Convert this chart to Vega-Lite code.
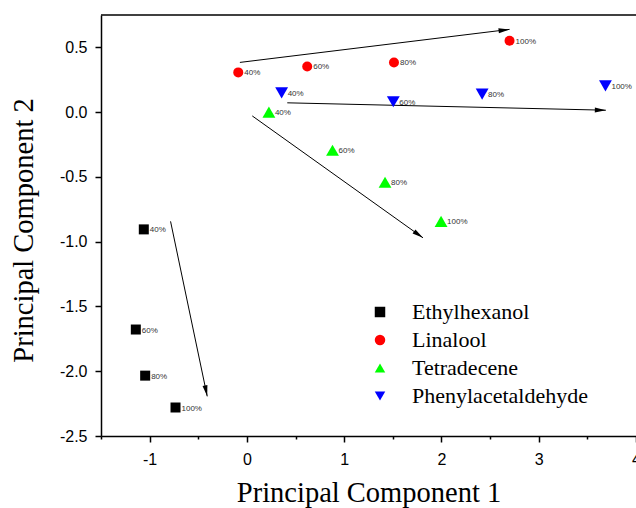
{
  "$schema": "https://vega.github.io/schema/vega-lite/v6.json",
  "width": 535,
  "height": 421,
  "autosize": {"type": "none"},
  "padding": {"left": 101, "top": 15, "right": 0, "bottom": 72},
  "background": "white",
  "datasets": {
    "pts": [
      {"series": "Ethylhexanol", "x": -1.06, "y": -0.905, "label": "40%"},
      {"series": "Ethylhexanol", "x": -1.142, "y": -1.678, "label": "60%"},
      {"series": "Ethylhexanol", "x": -1.046, "y": -2.034, "label": "80%"},
      {"series": "Ethylhexanol", "x": -0.734, "y": -2.28, "label": "100%"},
      {"series": "Linalool", "x": -0.089, "y": 0.307, "label": "40%"},
      {"series": "Linalool", "x": 0.62, "y": 0.353, "label": "60%"},
      {"series": "Linalool", "x": 1.512, "y": 0.384, "label": "80%"},
      {"series": "Linalool", "x": 2.7, "y": 0.551, "label": "100%"},
      {"series": "Tetradecene", "x": 0.226, "y": 0.0, "label": "40%"},
      {"series": "Tetradecene", "x": 0.88, "y": -0.294, "label": "60%"},
      {"series": "Tetradecene", "x": 1.42, "y": -0.541, "label": "80%"},
      {"series": "Tetradecene", "x": 1.996, "y": -0.843, "label": "100%"},
      {"series": "Phenylacetaldehyde", "x": 0.357, "y": 0.149, "label": "40%"},
      {"series": "Phenylacetaldehyde", "x": 1.505, "y": 0.08, "label": "60%"},
      {"series": "Phenylacetaldehyde", "x": 2.418, "y": 0.139, "label": "80%"},
      {"series": "Phenylacetaldehyde", "x": 3.686, "y": 0.203, "label": "100%"}
    ],
    "arrows": [
      {"x": -0.072, "y": 0.384, "xe": 2.7, "ye": 0.639},
      {"x": 0.415, "y": 0.072, "xe": 3.69, "ye": 0.015},
      {"x": 0.055, "y": -0.029, "xe": 1.81, "ye": -0.97},
      {"x": -0.785, "y": -0.843, "xe": -0.408, "ye": -2.194}
    ]
  },
  "layer": [
    {
      "data": {"values": [{"a": -1.5, "b": 4.0, "t": 0.75}]},
      "mark": {"type": "rule", "color": "black", "strokeWidth": 1.5},
      "encoding": {
        "x": {"field": "a", "type": "quantitative"},
        "x2": {"field": "b"},
        "y": {"field": "t", "type": "quantitative"}
      }
    },
    {
      "data": {"name": "arrows"},
      "mark": {"type": "rule", "color": "black", "strokeWidth": 1},
      "encoding": {
        "x": {"field": "x", "type": "quantitative"},
        "y": {"field": "y", "type": "quantitative"},
        "x2": {"field": "xe"},
        "y2": {"field": "ye"}
      }
    },
    {
      "data": {"name": "arrows"},
      "transform": [
        {"calculate": "atan2((datum.xe - datum.x) * 97.27, (datum.ye - datum.y) * 129.5) * 180 / PI", "as": "ang"}
      ],
      "mark": {"type": "point", "filled": true, "color": "black", "opacity": 1, "shape": "M0,0 L-0.45,2 L0.45,2 Z", "size": 121},
      "encoding": {
        "x": {"field": "xe", "type": "quantitative"},
        "y": {"field": "ye", "type": "quantitative"},
        "angle": {"field": "ang", "type": "quantitative", "scale": null}
      }
    },
    {
      "data": {"name": "pts"},
      "transform": [{"filter": "datum.series === 'Ethylhexanol' || datum.series === 'Linalool'"}],
      "mark": {"type": "point", "filled": true, "opacity": 1, "strokeWidth": 0, "size": 100},
      "encoding": {
        "x": {
          "field": "x", "type": "quantitative",
          "scale": {"domain": [-1.5, 4.0], "nice": false, "zero": false},
          "axis": {
            "title": "Principal Component 1",
            "values": [-1.5, -1, -0.5, 0, 0.5, 1, 1.5, 2, 2.5, 3, 3.5, 4],
            "format": ".0f",
            "labelExpr": "datum.value % 1 === 0 ? replace(datum.label, '−', '-') : ''",
            "tickSize": {"condition": {"test": "datum.value % 1 === 0", "value": 6}, "value": 3},
            "labelPadding": 9,
            "titlePadding": 11,
            "labelFlush": false,
            "labelOverlap": false
          }
        },
        "y": {
          "field": "y", "type": "quantitative",
          "scale": {"domain": [-2.5, 0.75], "nice": false, "zero": false},
          "axis": {
            "title": "Principal Component 2",
            "values": [-2.5, -2.25, -2, -1.75, -1.5, -1.25, -1, -0.75, -0.5, -0.25, 0, 0.25, 0.5],
            "format": ".1f",
            "labelExpr": "abs(round(datum.value * 4)) % 2 === 0 ? replace(datum.label, '−', '-') : ''",
            "tickSize": {"condition": {"test": "abs(round(datum.value * 4)) % 2 === 0", "value": 6}, "value": 3},
            "labelPadding": 8,
            "titlePadding": 21,
            "titleY": 215,
            "labelFlush": false,
            "labelOverlap": false
          }
        },
        "color": {
          "field": "series", "type": "nominal",
          "scale": {"domain": ["Ethylhexanol", "Linalool", "Tetradecene", "Phenylacetaldehyde"], "range": ["#000000", "#ff0000", "#00ff00", "#0000ff"]},
          "legend": {
            "title": null, "orient": "none", "legendX": 268, "legendY": 286,
            "encode": {"symbols": {"update": {"size": {"signal": "datum.value === 'Tetradecene' || datum.value === 'Phenylacetaldehyde' ? 165 : 100"}}}}
          }
        },
        "shape": {
          "field": "series", "type": "nominal",
          "scale": {"domain": ["Ethylhexanol", "Linalool", "Tetradecene", "Phenylacetaldehyde"], "range": ["square", "circle", "triangle-up", "triangle-down"]},
          "legend": {
            "title": null, "orient": "none", "legendX": 268, "legendY": 286,
            "encode": {"symbols": {"update": {"size": {"signal": "datum.value === 'Tetradecene' || datum.value === 'Phenylacetaldehyde' ? 165 : 100"}}}}
          }
        }
      }
    },
    {
      "data": {"name": "pts"},
      "transform": [{"filter": "datum.series === 'Tetradecene' || datum.series === 'Phenylacetaldehyde'"}],
      "mark": {"type": "point", "filled": true, "opacity": 1, "strokeWidth": 0, "size": 165},
      "encoding": {
        "x": {"field": "x", "type": "quantitative"},
        "y": {"field": "y", "type": "quantitative"},
        "color": {"field": "series", "type": "nominal"},
        "shape": {"field": "series", "type": "nominal"}
      }
    },
    {
      "data": {"name": "pts"},
      "mark": {"type": "text", "align": "left", "baseline": "middle", "dx": 6, "dy": 1, "fontSize": 8, "font": "Liberation Sans", "color": "#333333"},
      "encoding": {
        "x": {"field": "x", "type": "quantitative"},
        "y": {"field": "y", "type": "quantitative"},
        "text": {"field": "label"}
      }
    }
  ],
  "config": {
    "view": {"stroke": null},
    "axis": {
      "grid": false,
      "domainColor": "black",
      "domainWidth": 1.5,
      "tickColor": "black",
      "tickWidth": 1.5,
      "labelFont": "Liberation Sans",
      "labelFontSize": 16,
      "labelColor": "black",
      "titleFont": "Liberation Serif",
      "titleFontSize": 28.5,
      "titleFontWeight": "normal",
      "titleColor": "black"
    },
    "legend": {
      "padding": 0,
      "labelFont": "Liberation Serif",
      "labelFontSize": 22,
      "labelColor": "black",
      "labelLimit": 0,
      "symbolSize": 110,
      "symbolStrokeWidth": 0,
      "rowPadding": 6,
      "labelOffset": 21
    }
  }
}
